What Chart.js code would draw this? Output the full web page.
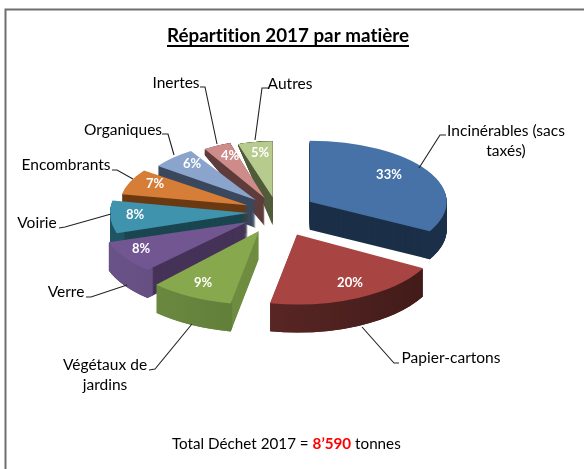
<!DOCTYPE html>
<html>
<head>
<meta charset="utf-8">
<script src="https://cdn.jsdelivr.net/npm/chart.js@4"></script>
<style>
body { margin: 0; background: #fff; }
canvas { display: block; }
</style>
</head>
<body>
<canvas id="pie_matiere" width="584" height="469"></canvas>
<script>
const categories = ['Incinérables (sacs taxés)', 'Papier-cartons', 'Végétaux de jardins', 'Verre', 'Voirie',
    'Encombrants', 'Organiques', 'Inertes', 'Autres'];
const percents = [33, 20, 9, 8, 8, 7, 6, 4, 5];

const topColors = ['#4672a8', '#a84543', '#88a84e', '#715692', '#3f93ad', '#d67d37', '#8aa4cc', '#cd8c8a', '#b8cb8f'];
const sideColors = ['#1c2f48', '#4a1c1a', '#6f8d40', '#463358', '#1a4650', '#6b3a12', '#3b485e', '#5e3c3b', '#515c3b'];
const wallLeft = ['#1c2f48', '#6a2e2c', '#6f8e42', '#6a5388', '#1f5563', '#6b3a12', '#3b485e', '#5e3c3b', '#515c3b'];
const wallRight = ['#1c2f48', '#3f1a18', '#4f6a2f', '#4d3a68', '#1a4650', '#6b3a12', '#3b485e', '#5e3c3b', '#515c3b'];

// fake 3D view: pull-out of each slice, perspective squash, extra flare of back walls
const centerX = 277, centerY = 212, squash = 0.53, depth = 28;
const explode = [38, 47, 40, 35, 29, 32, 31, 29, 28];
const scaleX = [1.37, 1.44, 1.5, 1.46, 1.38, 1.28, 1.21, 1.12, 1.12];
const scaleY = [0.61, 0.70, 0.74, 0.66, 0.66, 0.59, 0.58, 0.58, 0.56];
const flare = [0, 0, 0, 0, 0, 0, 0.1, 0.45, 0.5];

const pctPos = [[389, 175], [350, 283], [203, 283], [141, 249], [135, 215], [155, 184], [192, 164], [230, 156], [260, 153]];
const calloutLines = [
    [['Incinérables (sacs', 506, 131], ['taxés)', 506, 151]],
    [['Papier-cartons', 451, 358]],
    [['Végétaux de', 105, 365], ['jardins', 105, 385]],
    [['Verre', 66, 292]],
    [['Voirie', 37, 223]],
    [['Encombrants', 66, 165]],
    [['Organiques', 123, 130]],
    [['Inertes', 176, 83]],
    [['Autres', 290, 84]]
];
const leaders = [
    [[446, 135], [440, 135], [419, 168]],
    [[399, 363], [394, 363], [362, 327]],
    [[149, 370], [155, 369], [192, 324]],
    [[86, 297], [91, 297], [127, 285]],
    [[59, 228], [65, 227], [111, 214]],
    [[112, 170], [117, 170], [133, 179]],
    [[162, 134], [168, 134], [174, 155]],
    [[200, 87], [205, 87], [217, 144]],
    [[268, 88], [262, 88], [255, 140]]
];

const fontFamily = 'Lato, "Open Sans", sans-serif';

function drawSlice(ctx, arc, i) {
    const mid = (arc.startAngle + arc.endAngle) / 2;
    const apexX = centerX + explode[i] * Math.cos(mid);
    const apexY = centerY + explode[i] * Math.sin(mid) * squash;

    const place = function(k) {
        const grow = 1 + flare[i] * k / depth;
        ctx.setTransform(1, 0, 0, 1, 0, 0);
        ctx.translate(apexX, apexY + k);
        ctx.scale(scaleX[i], scaleY[i] * grow);
        ctx.translate(-arc.x, -arc.y);
    };

    // walls of the slice, from the bottom up
    const side = Object.create(arc);
    side.options = Object.assign({}, arc.options, {backgroundColor: sideColors[i]});
    for (let k = depth; k > 0; k--) {
        place(k);
        side.draw(ctx);
    }

    // rounded outer wall with its shading
    const ring = Object.create(arc);
    ring.innerRadius = arc.outerRadius - 6;
    for (let k = depth; k > 0; k--) {
        place(k);
        const grad = ctx.createLinearGradient(arc.x - 100, 0, arc.x + 100, 0);
        grad.addColorStop(0, wallLeft[i]);
        grad.addColorStop(1, wallRight[i]);
        if (arc.startAngle < Math.PI && arc.endAngle > 0) {
            ring.options = Object.assign({}, arc.options, {backgroundColor: grad});
            ring.draw(ctx);
        }
    }

    place(0);
    arc.draw(ctx);
    ctx.setTransform(1, 0, 0, 1, 0, 0);
}

const pie3d = {
    id: 'pie3d',
    beforeDatasetsDraw(chart) {
        const ctx = chart.ctx;
        const arcs = chart.getDatasetMeta(0).data;
        ctx.save();
        for (let i = arcs.length - 1; i >= 0; i--) {
            drawSlice(ctx, arcs[i], i);
        }
        ctx.restore();
        return false;
    },
    afterDraw(chart) {
        const ctx = chart.ctx;
        ctx.save();

        // frame
        ctx.strokeStyle = '#6e6e6e';
        ctx.lineWidth = 2;
        ctx.beginPath();
        ctx.moveTo(5.5, 469);
        ctx.lineTo(5.5, 9.5);
        ctx.lineTo(584, 9.5);
        ctx.stroke();

        ctx.textBaseline = 'middle';
        ctx.textAlign = 'center';
        ctx.letterSpacing = '0.01px'; // keeps Lato from joining "ti"

        // title
        ctx.fillStyle = '#000';
        ctx.font = 'bold 18.8px ' + fontFamily;
        ctx.fillText('Répartition 2017 par matière', 288, 36);
        ctx.fillRect(167, 45, 242, 2);

        // percent labels
        ctx.fillStyle = '#fff';
        ctx.font = 'bold 13px ' + fontFamily;
        percents.forEach(function(p, i) {
            ctx.fillText(p + '%', pctPos[i][0], pctPos[i][1]);
        });

        // callouts
        ctx.fillStyle = '#000';
        ctx.font = '15.5px ' + fontFamily;
        calloutLines.forEach(function(lines) {
            lines.forEach(function(l) {
                ctx.fillText(l[0], l[1], l[2]);
            });
        });
        ctx.strokeStyle = '#222';
        ctx.lineWidth = 1.1;
        leaders.forEach(function(pts) {
            ctx.beginPath();
            pts.forEach(function(p, j) {
                if (j === 0) ctx.moveTo(p[0], p[1]);
                else ctx.lineTo(p[0], p[1]);
            });
            ctx.stroke();
        });

        // total line
        ctx.textAlign = 'left';
        ctx.font = '15.2px ' + fontFamily;
        let x = 172;
        ctx.fillText('Total Déchet 2017 = ', x, 444);
        x += ctx.measureText('Total Déchet 2017 = ').width;
        ctx.fillStyle = '#f00';
        ctx.font = 'bold 15.2px ' + fontFamily;
        ctx.fillText('8’590', x, 444);
        x += ctx.measureText('8’590').width;
        ctx.fillStyle = '#000';
        ctx.font = '15.2px ' + fontFamily;
        ctx.fillText(' tonnes', x, 444);

        ctx.restore();
    }
};

new Chart(document.getElementById('pie_matiere'), {
    type: 'pie',
    plugins: [pie3d],
    options: {
        responsive: false,
        animation: false,
        plugins: {
            legend: {display: false},
            tooltip: {enabled: false}
        }
    },
    data: {
        labels: categories,
        datasets: [{
            data: percents,
            radius: 100,
            borderWidth: 0,
            backgroundColor: topColors
        }]
    }
});
</script>
</body>
</html>
